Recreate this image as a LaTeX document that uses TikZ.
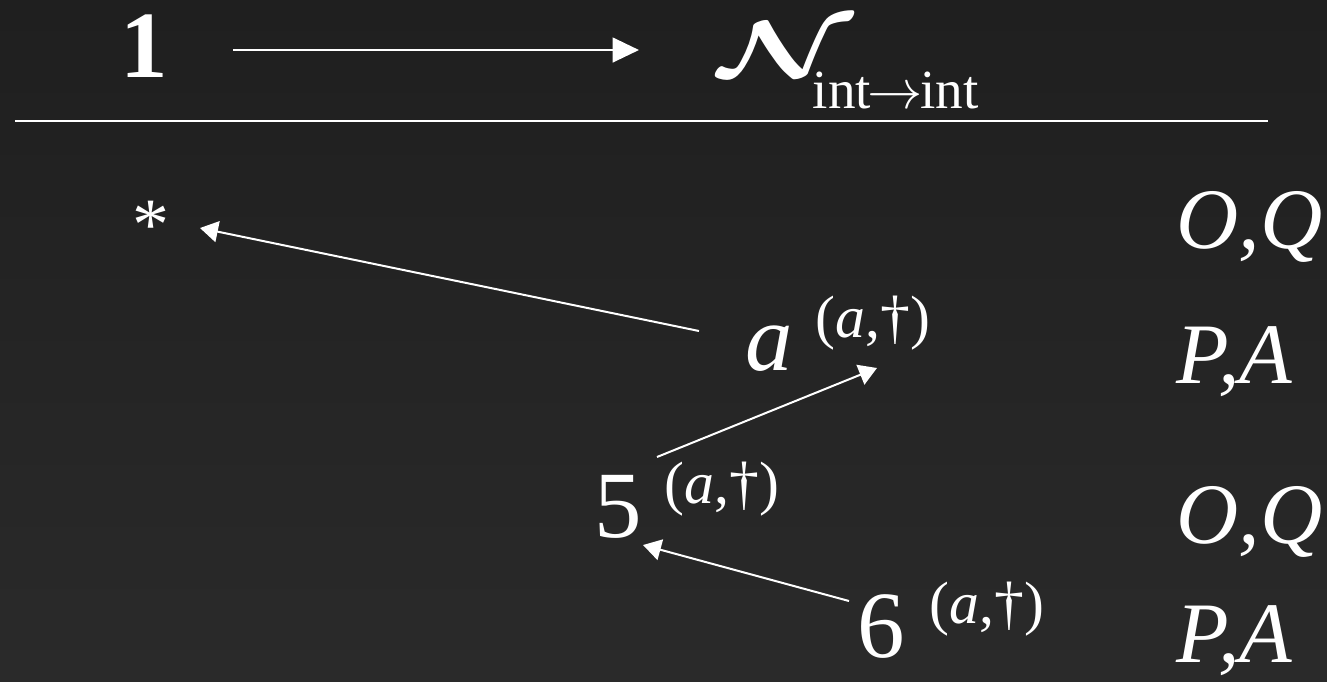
\documentclass[tikz,border=0pt]{standalone}
\usepackage{fix-cm}
\usepackage{graphicx}
\usepackage{fontspec}
\setmainfont{Liberation Serif}
\usepackage{tikz}
\usetikzlibrary{arrows.meta,calc}
\definecolor{bgtop}{HTML}{1F1F1F}
\definecolor{bgbot}{HTML}{2A2A2A}

\begin{document}
\begin{tikzpicture}[
  x=0.01cm, y=-0.01cm,
  term/.style={inner sep=0pt, anchor=base west, text=white, font=\fontsize{27}{32}\selectfont},
  tag/.style={inner sep=0pt, anchor=base west, text=white, font=\fontsize{17}{20}\selectfont},
  role/.style={inner sep=0pt, anchor=base west, text=white, font=\fontsize{24.5}{30}\selectfont\itshape},
  arr/.style={-{Triangle[length=5.1pt, width=6pt]}, white, line width=0.57pt},
  bigarr/.style={-{Triangle[length=7.5pt, width=7pt]}, white, line width=0.77pt}
]
  \fill[top color=bgtop, bottom color=bgbot] (0,0) rectangle (1327,681);
  \useasboundingbox (0,0) rectangle (1327,681);

  \node[term, anchor=base] (one) at (144,77) {\textbf{1}};
  \node[term] (cN) at (718,76) {\scalebox{1.3}[0.84]{\boldmath$\mathcal{N}$}};
  \node[tag, font=\fontsize{15.7}{18}\selectfont] (cNsub) at (812,108) {int$\mkern-1mu\rightarrow\mkern-1mu$int};
  \coordinate (ruleL) at (15,121);
  \coordinate (ruleR) at (1268,121);
  \draw[white, line width=0.77pt] (ruleL) -- (ruleR);

  \node[term, anchor=base, font=\fontsize{21}{24}\selectfont] (star) at (151,249) {*};
  \node[term] (ma) at (745,370) {\textit{a}};
  \node[tag] (masup) at (815,337) {(\textit{a},†)};
  \node[term] (m5) at (594,537) {5};
  \node[tag] (m5sup) at (664,503) {(\textit{a},†)};
  \node[term] (m6) at (857,657) {6};
  \node[tag] (m6sup) at (929,623) {(\textit{a},†)};

  \node[role] (r1) at (1176,248) {O,Q};
  \node[role] (r2) at (1176,383) {P,A};
  \node[role] (r3) at (1176,543) {O,Q};
  \node[role] (r4) at (1176,662) {P,A};

  \draw[bigarr] ($(one.base)+(89,-27)$) -- ($(cN.base west)+(-79,-26)$);
  \draw[arr] ($(ma.base west)+(-46,-39)$) -- ($(star.base)+(49,-21)$);
  \draw[arr] ($(m5.base west)+(63,-80)$) -- ($(masup.base west)+(62,31)$);
  \draw[arr] ($(m6.base west)+(-8,-56)$) -- ($(m5.base west)+(49,8)$);
\end{tikzpicture}
\end{document}
